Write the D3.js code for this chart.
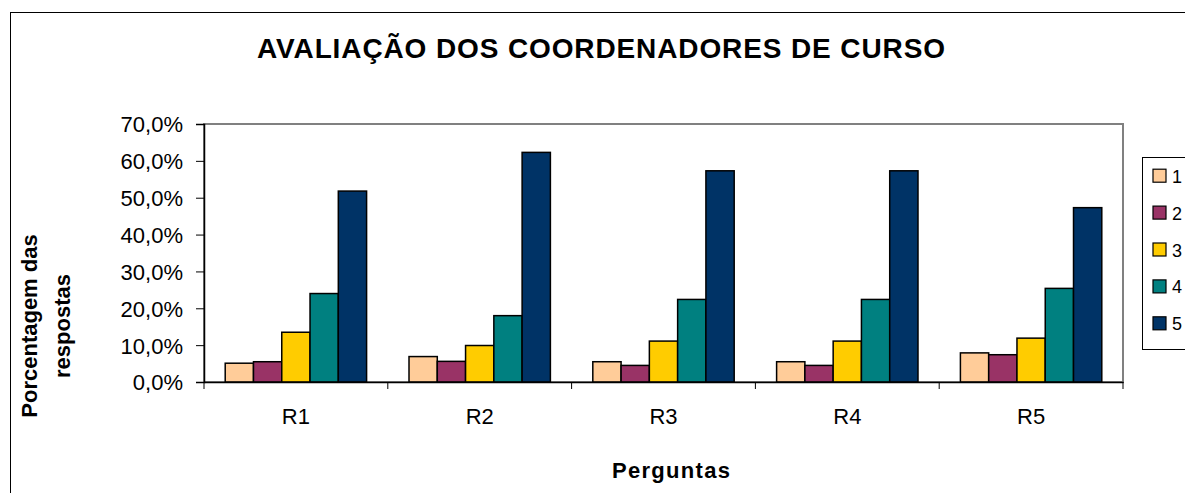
<!DOCTYPE html>
<html>
<head>
<meta charset="utf-8">
<script src="https://cdn.jsdelivr.net/npm/d3@7"></script>
<style>
  body { margin: 0; background: #fff; }
  text { font-family: "Liberation Sans", Arial, sans-serif; fill: #000; }
</style>
</head>
<body>
<div id="chart"></div>
<script>
// questions on the x axis
var categories = ["R1", "R2", "R3", "R4", "R5"];
// answer levels (legend)
var levels = ["1", "2", "3", "4", "5"];
// percentages per level, one value per question
var level1 = [5.1, 6.9, 5.5, 5.5, 7.9];
var level2 = [5.5, 5.6, 4.5, 4.5, 7.4];
var level3 = [13.5, 9.9, 11.1, 11.1, 11.9];
var level4 = [24.0, 18.0, 22.4, 22.4, 25.4];
var level5 = [51.8, 62.3, 57.3, 57.3, 47.3];
var yTicks = [0, 10, 20, 30, 40, 50, 60, 70];
var colors = ["#FFCC99", "#993366", "#FFCC00", "#008080", "#003366"];

var seriesValues = [level1, level2, level3, level4, level5];

var W = 1185, H = 493;
var margin = { top: 124, left: 204, right: 62, bottom: 111 };
var width = W - margin.left - margin.right;
var height = H - margin.top - margin.bottom;
var font = "'Liberation Sans', Arial, sans-serif";

var svg = d3.select("#chart").append("svg")
    .attr("width", W)
    .attr("height", H);

// outer chart frame (runs off the right and bottom edges)
svg.append("rect")
    .attr("x", 10.5).attr("y", 12.5)
    .attr("width", W + 20).attr("height", H + 20)
    .attr("fill", "none")
    .attr("stroke", "#000")
    .attr("stroke-width", 1);

// title
svg.append("text")
    .attr("x", 601)
    .attr("y", 58)
    .attr("text-anchor", "middle")
    .attr("textLength", 688)
    .attr("lengthAdjust", "spacing")
    .style("font-size", "28px")
    .style("font-weight", "bold")
    .text("AVALIAÇÃO DOS COORDENADORES DE CURSO");

var g = svg.append("g")
    .attr("transform", "translate(" + margin.left + "," + margin.top + ")");

var x0 = d3.scaleBand()
    .domain(categories)
    .range([0, width])
    .paddingInner(0)
    .paddingOuter(0);

// excel-style gap width 150%: 5 bars + 1.5 bar of gap
var barW = x0.bandwidth() / 6.5;
var x1 = d3.scaleBand()
    .domain(levels)
    .range([barW * 0.75, barW * 5.75]);

var y = d3.scaleLinear()
    .domain([0, 70])
    .range([height, 0]);

// plot area frame
g.append("rect")
    .attr("x", 0).attr("y", 0)
    .attr("width", width).attr("height", height)
    .attr("fill", "#fff")
    .attr("stroke", "#808080")
    .attr("stroke-width", 2);

// bars
var rows = [];
categories.forEach(function (c, i) {
    levels.forEach(function (l, j) {
        rows.push({ cat: c, level: l, value: seriesValues[j][i], color: colors[j] });
    });
});

g.selectAll("rect.bar")
    .data(rows)
    .enter()
    .append("rect")
    .attr("class", "bar")
    .attr("x", function (d) { return x0(d.cat) + x1(d.level); })
    .attr("y", function (d) { return y(d.value); })
    .attr("width", x1.bandwidth())
    .attr("height", function (d) { return height - y(d.value); })
    .attr("fill", function (d) { return d.color; })
    .attr("stroke", "#000")
    .attr("stroke-width", 1.5);

// y axis
var yAxis = g.append("g")
    .call(d3.axisLeft(y)
        .tickValues(yTicks)
        .tickSize(8)
        .tickPadding(13)
        .tickFormat(function (d) { return d3.format(".1f")(d).replace(".", ",") + "%"; }));
yAxis.select(".domain").attr("stroke", "#000").attr("stroke-width", 1.5);
yAxis.selectAll("text")
    .attr("dy", "0.36em")
    .style("font-size", "22px")
    .style("font-family", font);

// x axis
var xAxis = g.append("g")
    .attr("transform", "translate(0," + height + ")")
    .call(d3.axisBottom(x0).tickSize(0).tickPadding(0));
xAxis.select(".domain").attr("stroke", "#000").attr("stroke-width", 1.5);
xAxis.selectAll("text")
    .attr("y", 424 - margin.top - height)
    .attr("dy", 0)
    .style("font-size", "22px")
    .style("font-family", font);

// category separator ticks
g.selectAll("line.sep")
    .data(categories.concat(["end"]))
    .enter()
    .append("line")
    .attr("class", "sep")
    .attr("x1", function (d, i) { return i * x0.step(); })
    .attr("x2", function (d, i) { return i * x0.step(); })
    .attr("y1", height)
    .attr("y2", height + 7)
    .attr("stroke", "#000")
    .attr("stroke-width", 1);

// axis titles
svg.append("text")
    .attr("x", 671)
    .attr("y", 478)
    .attr("text-anchor", "middle")
    .attr("textLength", 118)
    .attr("lengthAdjust", "spacing")
    .style("font-size", "22px")
    .style("font-weight", "bold")
    .text("Perguntas");

var yLabel = svg.append("text")
    .attr("transform", "translate(37,326) rotate(-90)")
    .attr("text-anchor", "middle")
    .style("font-size", "22px")
    .style("font-weight", "bold");
yLabel.append("tspan").attr("x", 0).attr("dy", 0).text("Porcentagem das");
yLabel.append("tspan").attr("x", 0).attr("dy", 33).text("respostas");

// legend
var legend = svg.append("g").attr("transform", "translate(1142,157)");
legend.append("rect")
    .attr("x", 0.5).attr("y", 0.5)
    .attr("width", 80).attr("height", 192)
    .attr("fill", "#fff")
    .attr("stroke", "#000")
    .attr("stroke-width", 1);

var item = legend.selectAll("g.item")
    .data(levels)
    .enter()
    .append("g")
    .attr("class", "item")
    .attr("transform", function (d, i) { return "translate(0," + (18.7 + i * 36.9) + ")"; });

item.append("rect")
    .attr("x", 11).attr("y", -6.5)
    .attr("width", 13).attr("height", 13)
    .attr("fill", function (d, i) { return colors[i]; })
    .attr("stroke", "#000")
    .attr("stroke-width", 1.2);

item.append("text")
    .attr("x", 30)
    .attr("y", 7)
    .style("font-size", "18px")
    .text(function (d) { return d; });
</script>
</body>
</html>
